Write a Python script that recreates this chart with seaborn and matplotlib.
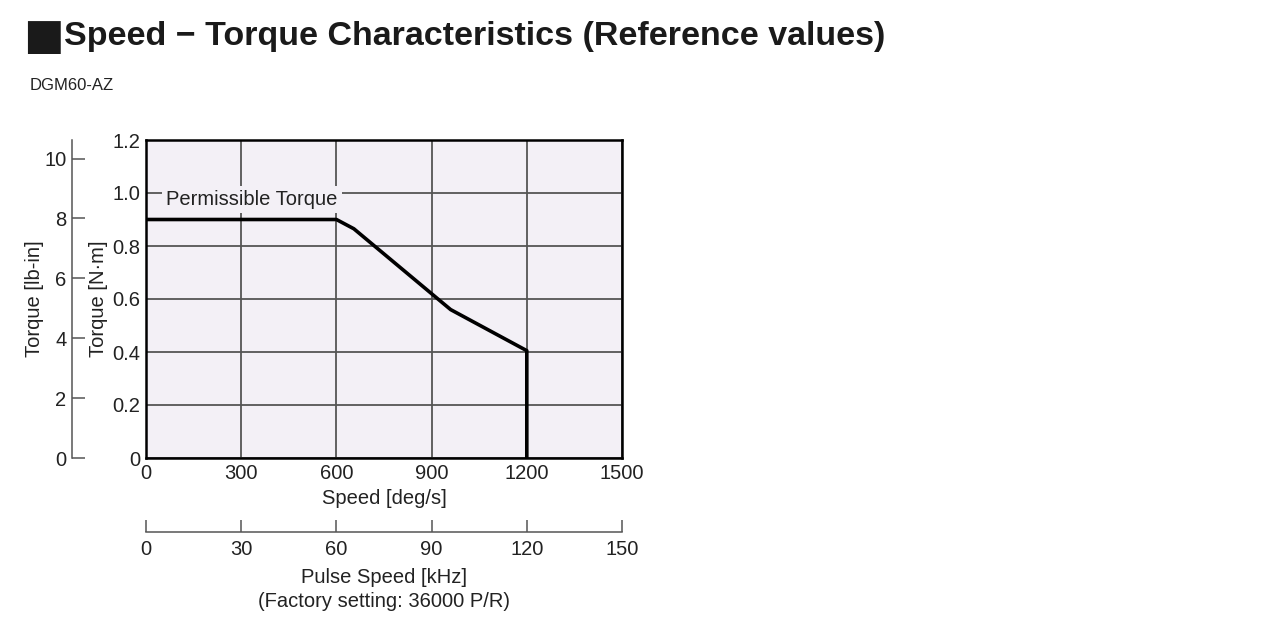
import matplotlib
matplotlib.use("Agg")
import matplotlib.pyplot as plt
import seaborn as sns
import pandas as pd

sns.set_theme(style="white")
FONTS = ["Liberation Sans", "DejaVu Sans"]
plt.rcParams["font.family"] = FONTS

# ---- data ----
speed_deg_s = [0, 600, 655, 960, 1200, 1200]
torque_nm = [0.90, 0.90, 0.865, 0.56, 0.405, 0.0]
x_ticks = [0, 300, 600, 900, 1200, 1500]
y_ticks = [0, 0.2, 0.4, 0.6, 0.8, 1.0, 1.2]
y_tick_labels = ["0", "0.2", "0.4", "0.6", "0.8", "1.0", "1.2"]
lbin_ticks = [0, 2, 4, 6, 8, 10]
pulse_ticks = [0, 30, 60, 90, 120, 150]
NM_TO_LBIN = 8.85
DEG_PER_KHZ = 10.0

df = pd.DataFrame({"speed": speed_deg_s, "torque": torque_nm})

BG = "#f3f0f6"
GRID = "#555555"
TXT = "#222222"

fig = plt.figure(figsize=(12.8, 6.17), dpi=100)
ax = fig.add_axes([146 / 1280, 1 - 458 / 617, 476 / 1280, 318 / 617])
ax.set_facecolor(BG)

sns.lineplot(data=df, x="speed", y="torque", ax=ax, sort=False, estimator=None,
             color="black", linewidth=2.6, legend=False)

ax.set_xlim(0, 1500)
ax.set_ylim(0, 1.2)
ax.set_xticks(x_ticks)
ax.set_xticklabels([str(v) for v in x_ticks])
ax.set_yticks(y_ticks)
ax.set_yticklabels(y_tick_labels)
ax.grid(True, color=GRID, linewidth=1.3)
ax.set_axisbelow(True)
for s in ax.spines.values():
    s.set_color("black")
    s.set_linewidth(1.8)
ax.tick_params(axis="both", length=0, labelsize=14.5, colors=TXT)
ax.tick_params(axis="x", pad=4.5)
ax.tick_params(axis="y", pad=4)
ax.set_xlabel("Speed [deg/s]", fontsize=14.5, color=TXT, labelpad=4.5)
ax.set_ylabel("Torque [N·m]", fontsize=14.5, color=TXT, labelpad=3)

ax.text(64, 0.975, "Permissible Torque", fontsize=14.5, color=TXT, va="center", ha="left",
        bbox=dict(facecolor=BG, edgecolor="none", pad=3))

# lb-in secondary axis
sec_y = ax.secondary_yaxis((72 - 146) / 476,
                           functions=(lambda v: v * NM_TO_LBIN, lambda v: v / NM_TO_LBIN))
sec_y.set_yticks(lbin_ticks)
sec_y.tick_params(direction="in", length=9.5, width=1.1, color="#555555",
                  labelsize=14.5, labelcolor=TXT, pad=4)
sec_y.spines["left"].set_color("#555555")
sec_y.spines["left"].set_linewidth(1.1)
sec_y.set_ylabel("Torque [lb-in]", fontsize=14.5, color=TXT, labelpad=0)

# pulse speed secondary axis
sec_x = ax.secondary_xaxis((458 - 532) / 318,
                           functions=(lambda v: v / DEG_PER_KHZ, lambda v: v * DEG_PER_KHZ))
sec_x.set_xticks(pulse_ticks)
sec_x.tick_params(direction="in", length=9, width=1.1, color="#555555",
                  labelsize=14.5, labelcolor=TXT, pad=5.5)
sec_x.spines["bottom"].set_color("#555555")
sec_x.spines["bottom"].set_linewidth(1.1)
sec_x.set_xlabel("Pulse Speed [kHz]\n(Factory setting: 36000 P/R)", fontsize=14.5,
                 color=TXT, labelpad=7, linespacing=1.3)

# titles
fig.text(23 / 1280, 1 - 37 / 617, "■", fontsize=31, family=["DejaVu Sans"],
         va="center", ha="left", color="#1a1a1a")
fig.text(64 / 1280, 1 - 37 / 617, "Speed − Torque Characteristics (Reference values)",
         fontsize=24.5, fontweight="bold", va="center", ha="left", color="#1a1a1a",
         family=FONTS)
fig.text(30 / 1280, 1 - 86 / 617, "DGM60-AZ", fontsize=12, va="center", ha="left",
         color=TXT, family=FONTS)

fig.savefig("out.png", dpi=100, facecolor="white")
